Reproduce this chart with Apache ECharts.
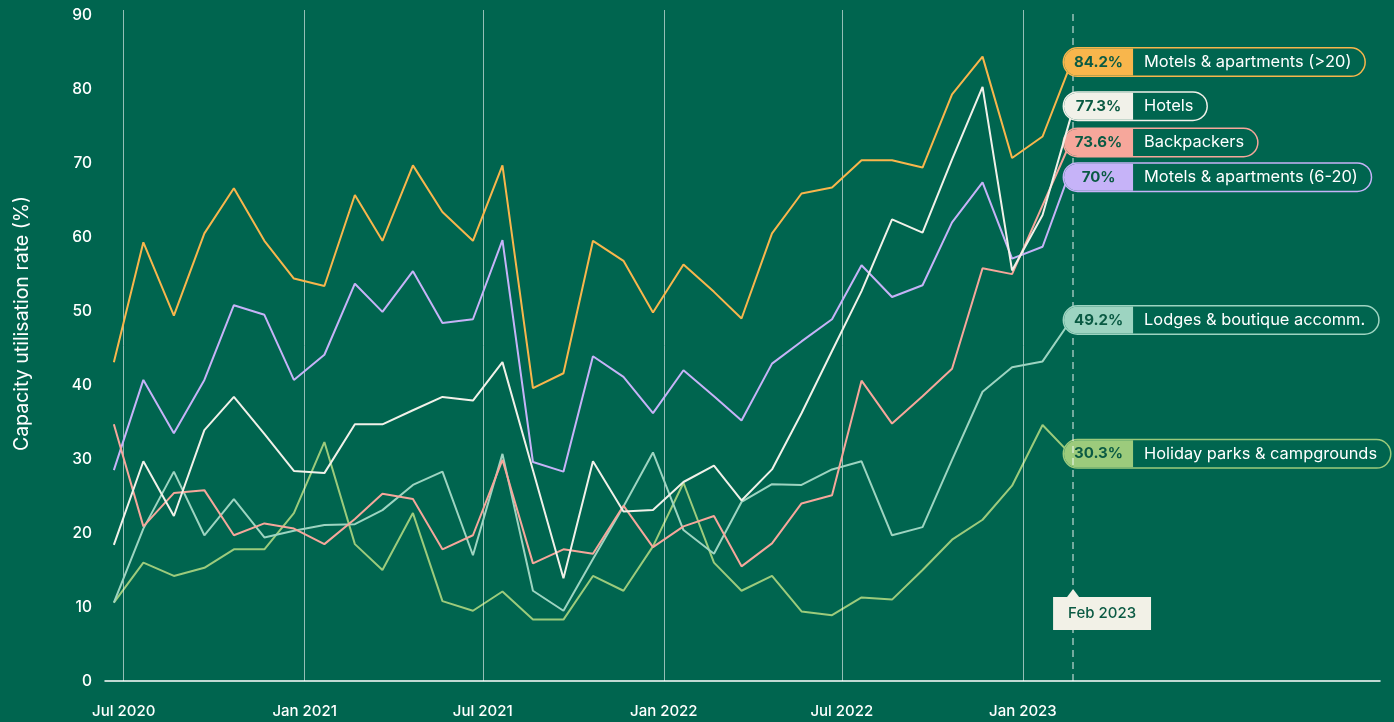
<!DOCTYPE html>
<html>
<head>
<meta charset="utf-8">
<script src="https://cdn.jsdelivr.net/npm/echarts@6/dist/echarts.min.js"></script>
<style>
  html, body { margin: 0; padding: 0; background: #00654f; }
  #chart { width: 1394px; height: 722px; }
</style>
</head>
<body>
<div id="chart"></div>
<script>
// Monthly capacity utilisation, Jun 2020 – Feb 2023
const months = [
  '2020-06','2020-07','2020-08','2020-09','2020-10','2020-11','2020-12',
  '2021-01','2021-02','2021-03','2021-04','2021-05','2021-06','2021-07','2021-08','2021-09','2021-10','2021-11','2021-12',
  '2022-01','2022-02','2022-03','2022-04','2022-05','2022-06','2022-07','2022-08','2022-09','2022-10','2022-11','2022-12',
  '2023-01','2023-02'
];

const tickMonths = ['2020-07', '2021-01', '2021-07', '2022-01', '2022-07', '2023-01'];
const tickLabels = ['Jul 2020', 'Jan 2021', 'Jul 2021', 'Jan 2022', 'Jul 2022', 'Jan 2023'];
const latestLabel = 'Feb 2023';

const seriesNames = [
  'Motels & apartments (>20)',
  'Hotels',
  'Backpackers',
  'Motels & apartments (6-20)',
  'Lodges & boutique accomm.',
  'Holiday parks & campgrounds'
];

const motelsLarge = [43.1, 59.3, 49.4, 60.5, 66.6, 59.5, 54.4, 53.4, 65.7, 59.5, 69.7, 63.4, 59.5, 69.7, 39.6, 41.6, 59.5, 56.8, 49.8, 56.3, 52.6, 49.0, 60.5, 65.9, 66.7, 70.4, 70.4, 69.4, 79.3, 84.4, 70.7, 73.6, 84.2];
const hotels      = [18.4, 29.7, 22.3, 33.9, 38.4, 33.4, 28.4, 28.1, 34.7, 34.7, 36.6, 38.4, 37.9, 43.1, 28.5, 13.9, 29.7, 22.9, 23.1, 26.9, 29.1, 24.4, 28.6, 36.2, 44.6, 52.7, 62.4, 60.6, 70.5, 80.3, 55.5, 63.0, 77.3];
const backpackers = [34.7, 20.9, 25.4, 25.8, 19.7, 21.3, 20.6, 18.5, 21.9, 25.3, 24.6, 17.8, 19.7, 29.9, 15.9, 17.8, 17.2, 23.7, 18.1, 20.9, 22.3, 15.5, 18.6, 24.0, 25.1, 40.6, 34.8, 38.5, 42.2, 55.8, 55.0, 64.3, 73.6];
const motelsSmall = [28.5, 40.7, 33.5, 40.7, 50.8, 49.5, 40.7, 44.1, 53.7, 49.9, 55.4, 48.4, 48.9, 59.6, 29.6, 28.3, 43.9, 41.1, 36.2, 42.0, 38.5, 35.2, 42.9, 45.9, 48.9, 56.2, 51.9, 53.5, 62.0, 67.4, 57.1, 58.7, 70];
const lodges      = [10.6, 20.6, 28.3, 19.7, 24.6, 19.4, 20.3, 21.1, 21.2, 23.1, 26.5, 28.3, 17.0, 30.7, 12.2, 9.5, 16.5, 23.6, 30.9, 20.4, 17.2, 24.2, 26.6, 26.5, 28.6, 29.7, 19.7, 20.8, 29.9, 39.1, 42.4, 43.2, 49.2];
const holidayParks= [10.6, 16.0, 14.2, 15.3, 17.8, 17.8, 22.7, 32.3, 18.5, 15.0, 22.7, 10.8, 9.5, 12.1, 8.3, 8.3, 14.2, 12.2, 18.2, 26.8, 16.0, 12.2, 14.2, 9.4, 8.9, 11.3, 11.0, 15.0, 19.1, 21.8, 26.4, 34.6, 30.3];

const seriesValues = [motelsLarge, hotels, backpackers, motelsSmall, lodges, holidayParks];

// ---- styling ----
const BG = '#00654f';
const INK = '#0a5a43';
const colors = ['#f8b64c', '#f1f1e9', '#f6a79b', '#c6b3f8', '#9dd4c1', '#9ccb7c'];
const labelNudge = [4, -3, 6, 14, 3, -3];   // vertical shift of each end tag (px)
const FONT = 'Inter, "Noto Sans", sans-serif';
const Y_MAX = 90;        // last labelled tick
const Y_TOP = 90.7;      // guides run a little above the last tick

// observations sit late in each month
const t = s => new Date(s + 'T00:00:00').getTime();
const pointDate = m => t(m + '-21');

const series = seriesNames.map((name, i) => ({
  name,
  type: 'line',
  data: months.map((m, k) => [pointDate(m), seriesValues[i][k]]),
  symbol: 'none',
  lineStyle: { color: colors[i], width: 2 },
  itemStyle: { color: colors[i] },
  z: 3 + (seriesNames.length - i),
  endLabel: {
    show: true,
    offset: [-17, labelNudge[i]],
    padding: 0,
    backgroundColor: BG,
    borderColor: colors[i],
    borderWidth: 1.5,
    borderRadius: 14,
    formatter: p => `{v|${p.value[1]}%}{n|${name}}`,
    rich: {
      v: {
        backgroundColor: colors[i],
        borderRadius: [14, 0, 0, 14],
        width: 69,
        height: 27,
        lineHeight: 27,
        align: 'center',
        color: INK,
        fontFamily: FONT,
        fontWeight: 700,
        fontSize: 15
      },
      n: {
        color: '#ffffff',
        fontFamily: FONT,
        fontSize: 16.4,
        height: 27,
        lineHeight: 27,
        padding: [0, 13, 0, 11]
      }
    }
  }
}));

const lastDate = pointDate(months[months.length - 1]);

// month gridlines with their labels, plus the dashed "latest" marker
series.push({
  name: 'guides',
  type: 'line',
  data: [],
  silent: true,
  z: 1,
  markLine: {
    silent: true,
    symbol: ['none', 'none'],
    animation: false,
    label: {
      show: true,
      position: 'start',
      distance: 23,
      formatter: '{b}',
      color: '#ffffff',
      fontFamily: FONT,
      fontWeight: 500,
      fontSize: 15
    },
    lineStyle: { color: 'rgba(255,255,255,0.58)', width: 1, type: 'solid' },
    data: tickMonths.map((m, k) => [
      { coord: [t(m + '-01'), 0], name: tickLabels[k] },
      { coord: [t(m + '-01'), Y_TOP] }
    ]).concat([[
      { coord: [lastDate, 0], name: '', label: { show: false },
        lineStyle: { type: [7, 5], width: 1.5, color: 'rgba(255,255,255,0.6)' } },
      { coord: [lastDate, Y_TOP] }
    ]])
  },
  markPoint: {
    silent: true,
    animation: false,
    data: [{
      coord: [lastDate, 11.9],
      symbol: 'triangle',
      symbolSize: [12, 8],
      itemStyle: { color: '#f2f1e7' },
      label: {
        show: true,
        position: 'bottom',
        distance: 0,
        offset: [29, 0],
        formatter: latestLabel,
        backgroundColor: '#f2f1e7',
        padding: [9, 15, 9, 15],
        color: INK,
        fontFamily: FONT,
        fontWeight: 500,
        fontSize: 15
      }
    }]
  }
});

const chart = echarts.init(document.getElementById('chart'), null, { renderer: 'canvas' });
chart.setOption({
  backgroundColor: BG,
  animation: false,
  textStyle: { fontFamily: FONT },
  grid: { left: 105, right: 14, top: 10, bottom: 41, containLabel: false },
  xAxis: {
    type: 'time',
    min: t('2020-06-12'),
    max: t('2023-12-30'),
    axisLine: { show: true, lineStyle: { color: '#ffffff', width: 1.5 } },
    axisTick: { show: false },
    axisLabel: { show: false },
    splitLine: { show: false }
  },
  yAxis: {
    type: 'value',
    min: 0,
    max: Y_TOP,
    interval: 10,
    name: 'Capacity utilisation rate (%)',
    nameLocation: 'middle',
    nameGap: 73,
    nameTextStyle: { color: '#ffffff', fontSize: 19.5, fontFamily: FONT, padding: [0, 0, 0, 44] },
    axisLine: { show: false },
    axisTick: { show: false },
    splitLine: { show: false },
    axisLabel: {
      color: '#ffffff', fontSize: 15.5, fontWeight: 500, margin: 13, fontFamily: FONT,
      formatter: v => (v % 10 === 0 && v <= Y_MAX) ? String(v) : ''
    }
  },
  series
});
</script>
</body>
</html>
